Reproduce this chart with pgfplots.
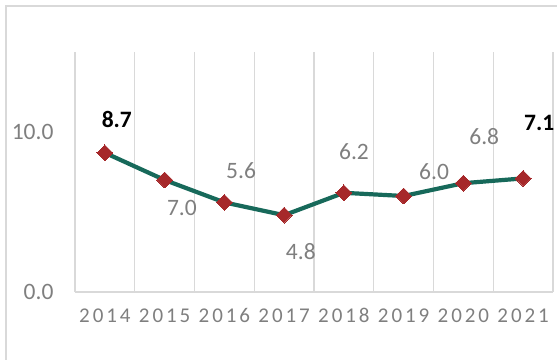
\documentclass[border=0pt]{standalone}
\usepackage{pgfplots}
\pgfplotsset{compat=1.18}
\usetikzlibrary{calc}
\usepackage{fontspec}
\setmainfont{Carlito}
\newfontfamily\spaced[LetterSpace=14]{Carlito}
\definecolor{linegreen}{HTML}{17695A}
\definecolor{mred}{HTML}{A6282A}
\definecolor{txtgray}{HTML}{7F7F7F}
\definecolor{gridgray}{HTML}{D9D9D9}
\begin{document}
\begin{tikzpicture}[x=1pt,y=1pt]
\begin{axis}[
  name=ax,
  scale only axis,
  width=478pt, height=240pt,
  xmin=-0.5, xmax=7.5,
  ymin=0, ymax=15,
  xtick={0,...,7},
  xticklabels={2014,2015,2016,2017,2018,2019,2020,2021},
  x tick label style={font=\fontsize{21}{25}\selectfont\spaced, text=txtgray, yshift=-13pt},
  ytick={0,10},
  yticklabels={0.0,10.0},
  y tick label style={font=\fontsize{23.5}{27}\selectfont, text=txtgray, xshift=-18pt},
  minor xtick={-0.5,0.5,...,7.5},
  xminorgrids=true,
  minor grid style={gridgray, line width=1.2pt},
  major tick length=0pt, minor tick length=0pt,
  axis line style={draw=none},
  axis x line*=bottom,
  axis y line*=left,
  clip=false,
]
\draw[gridgray, line width=1.2pt] (axis cs:-0.5,0) -- (axis cs:7.5,0);
\addplot[linegreen, line width=4.2pt, mark=square*, mark size=5.6pt,
  mark options={fill=mred, draw=mred, line width=0pt, rotate=45}]
  coordinates {(0,8.7) (1,7.0) (2,5.6) (3,4.8) (4,6.2) (5,6.0) (6,6.8) (7,7.1)};
\begin{scope}[every node/.style={font=\fontsize{23.5}{27}\selectfont, text=txtgray}]
\node[text=black, font=\fontsize{23.5}{27}\selectfont\bfseries] at (axis cs:0.2,10.8) {8.7};
\node at (axis cs:1.29,5.25) {7.0};
\node at (axis cs:2.28,7.56) {5.6};
\node at (axis cs:3.28,2.5) {4.8};
\node at (axis cs:4.17,8.8) {6.2};
\node at (axis cs:5.51,7.5) {6.0};
\node at (axis cs:6.35,9.7) {6.8};
\node[text=black, font=\fontsize{23.5}{27}\selectfont\bfseries] at (axis cs:7.27,10.55) {7.1};
\end{scope}
\end{axis}
\pgfresetboundingbox
\path[use as bounding box] ($(ax.south west)+(-75,-67)$) rectangle ($(ax.south west)+(482,292)$);
\draw[gridgray, line width=1.3pt] ($(ax.south west)+(-69,-80)$) -- ($(ax.south west)+(-69,286)$) -- ($(ax.south west)+(500,286)$);
\end{tikzpicture}
\end{document}
